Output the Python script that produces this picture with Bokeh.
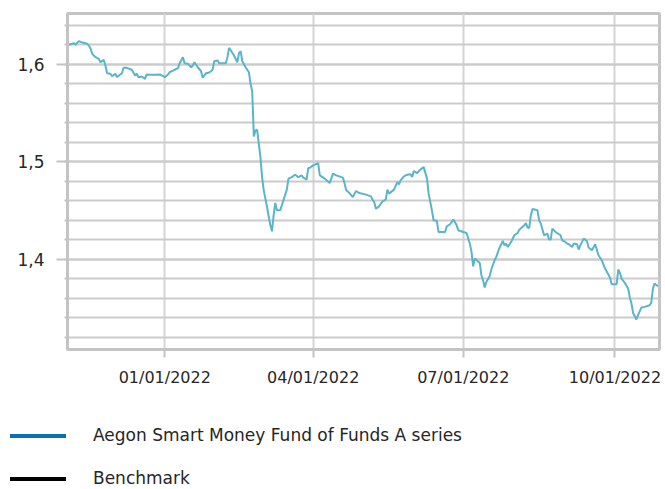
import pandas as pd
from bokeh.plotting import figure
from bokeh.layouts import column
from bokeh.models import (FixedTicker, DatetimeTickFormatter, CustomJSTickFormatter,
                          Range1d, Div)
from bokeh.embed import file_html
from bokeh.resources import INLINE

# ---- data ----
dates = [
    "2021-11-04", "2021-11-07", "2021-11-08", "2021-11-09", "2021-11-10", "2021-11-12", "2021-11-15",
    "2021-11-16", "2021-11-17", "2021-11-18", "2021-11-20", "2021-11-22", "2021-11-23", "2021-11-25",
    "2021-11-26", "2021-11-27", "2021-11-29", "2021-11-30", "2021-12-02", "2021-12-03", "2021-12-04",
    "2021-12-06", "2021-12-07", "2021-12-09", "2021-12-12", "2021-12-14", "2021-12-15", "2021-12-16",
    "2021-12-18", "2021-12-20", "2021-12-21", "2021-12-23", "2021-12-27", "2021-12-29", "2022-01-01",
    "2022-01-03", "2022-01-04", "2022-01-07", "2022-01-09", "2022-01-10", "2022-01-12", "2022-01-13",
    "2022-01-15", "2022-01-17", "2022-01-18", "2022-01-19", "2022-01-21", "2022-01-23", "2022-01-24",
    "2022-01-26", "2022-01-28", "2022-01-30", "2022-01-31", "2022-02-02", "2022-02-03", "2022-02-07",
    "2022-02-08", "2022-02-09", "2022-02-12", "2022-02-14", "2022-02-15", "2022-02-16", "2022-02-17",
    "2022-02-19", "2022-02-21", "2022-02-22", "2022-02-23", "2022-02-24", "2022-02-25", "2022-02-26",
    "2022-02-27", "2022-02-28", "2022-03-01", "2022-03-02", "2022-03-04", "2022-03-06", "2022-03-07",
    "2022-03-08", "2022-03-09", "2022-03-10", "2022-03-12", "2022-03-16", "2022-03-17", "2022-03-19",
    "2022-03-21", "2022-03-23", "2022-03-25", "2022-03-26", "2022-03-28", "2022-03-29", "2022-03-30",
    "2022-04-01", "2022-04-04", "2022-04-05", "2022-04-06", "2022-04-08", "2022-04-11", "2022-04-13",
    "2022-04-15", "2022-04-19", "2022-04-20", "2022-04-21", "2022-04-23", "2022-04-25", "2022-04-27",
    "2022-04-29", "2022-05-03", "2022-05-06", "2022-05-07", "2022-05-08", "2022-05-09", "2022-05-11",
    "2022-05-13", "2022-05-15", "2022-05-16", "2022-05-17", "2022-05-20", "2022-05-22", "2022-05-23",
    "2022-05-24", "2022-05-26", "2022-05-28", "2022-05-30", "2022-05-31", "2022-06-01", "2022-06-03",
    "2022-06-05", "2022-06-07", "2022-06-09", "2022-06-10", "2022-06-12", "2022-06-13", "2022-06-15",
    "2022-06-16", "2022-06-20", "2022-06-21", "2022-06-23", "2022-06-25", "2022-06-27", "2022-06-28",
    "2022-07-01", "2022-07-03", "2022-07-05", "2022-07-06", "2022-07-07", "2022-07-08", "2022-07-11",
    "2022-07-12", "2022-07-13", "2022-07-14", "2022-07-15", "2022-07-17", "2022-07-18", "2022-07-20",
    "2022-07-21", "2022-07-23", "2022-07-25", "2022-07-26", "2022-07-27", "2022-07-28", "2022-07-30",
    "2022-08-01", "2022-08-03", "2022-08-04", "2022-08-07", "2022-08-08", "2022-08-09", "2022-08-10",
    "2022-08-11", "2022-08-12", "2022-08-15", "2022-08-16", "2022-08-17", "2022-08-19", "2022-08-21",
    "2022-08-22", "2022-08-23", "2022-08-24", "2022-08-26", "2022-08-29", "2022-08-30", "2022-08-31",
    "2022-09-02", "2022-09-03", "2022-09-05", "2022-09-06", "2022-09-08", "2022-09-09", "2022-09-10",
    "2022-09-12", "2022-09-14", "2022-09-15", "2022-09-17", "2022-09-19", "2022-09-21", "2022-09-23",
    "2022-09-25", "2022-09-28", "2022-09-29", "2022-10-02", "2022-10-03", "2022-10-04", "2022-10-05",
    "2022-10-07", "2022-10-09", "2022-10-10", "2022-10-11", "2022-10-12", "2022-10-14", "2022-10-15",
    "2022-10-17", "2022-10-19", "2022-10-22", "2022-10-23", "2022-10-24", "2022-10-25", "2022-10-27",
]

fund_values = [
    1.6200, 1.6215, 1.6200, 1.6222, 1.6236, 1.6222, 1.6209,
    1.6191, 1.6158, 1.6106, 1.6072, 1.6055, 1.6020, 1.6045,
    1.5987, 1.5908, 1.5902, 1.5877, 1.5902, 1.5867, 1.5881,
    1.5908, 1.5963, 1.5963, 1.5943, 1.5884, 1.5902, 1.5867,
    1.5874, 1.5850, 1.5895, 1.5891, 1.5891, 1.5895, 1.5867,
    1.5895, 1.5918, 1.5943, 1.5959, 1.6010, 1.6072, 1.6010,
    1.6004, 1.5969, 1.5987, 1.6020, 1.5969, 1.5928, 1.5861,
    1.5908, 1.5915, 1.5943, 1.6031, 1.6038, 1.6010, 1.6010,
    1.6072, 1.6168, 1.6089, 1.6020, 1.6113, 1.6133, 1.6031,
    1.5969, 1.5918, 1.5799, 1.5724, 1.5260, 1.5321, 1.5328,
    1.5185, 1.5048, 1.4843, 1.4707, 1.4536, 1.4348, 1.4287,
    1.4451, 1.4577, 1.4502, 1.4502, 1.4714, 1.4827, 1.4843,
    1.4867, 1.4843, 1.4860, 1.4837, 1.4816, 1.4935, 1.4939,
    1.4963, 1.4986, 1.4860, 1.4850, 1.4827, 1.4781, 1.4878,
    1.4860, 1.4837, 1.4781, 1.4707, 1.4679, 1.4638, 1.4700,
    1.4679, 1.4663, 1.4645, 1.4611, 1.4587, 1.4519, 1.4543,
    1.4594, 1.4611, 1.4714, 1.4673, 1.4714, 1.4792, 1.4768,
    1.4809, 1.4850, 1.4867, 1.4871, 1.4843, 1.4904, 1.4884,
    1.4919, 1.4945, 1.4827, 1.4673, 1.4502, 1.4400, 1.4392,
    1.4280, 1.4280, 1.4338, 1.4359, 1.4407, 1.4348, 1.4297,
    1.4280, 1.4270, 1.4160, 1.4075, 1.3928, 1.4007, 1.3962,
    1.3836, 1.3785, 1.3710, 1.3768, 1.3826, 1.3895, 1.3990,
    1.4024, 1.4120, 1.4188, 1.4143, 1.4161, 1.4126, 1.4177,
    1.4246, 1.4270, 1.4304, 1.4348, 1.4372, 1.4325, 1.4321,
    1.4451, 1.4515, 1.4502, 1.4400, 1.4366, 1.4246, 1.4263,
    1.4202, 1.4202, 1.4314, 1.4280, 1.4246, 1.4195, 1.4187,
    1.4161, 1.4154, 1.4126, 1.4161, 1.4154, 1.4100, 1.4143,
    1.4212, 1.4187, 1.4120, 1.4092, 1.4154, 1.4041, 1.3990,
    1.3905, 1.3813, 1.3744, 1.3744, 1.3895, 1.3860, 1.3802,
    1.3757, 1.3700, 1.3608, 1.3547, 1.3450, 1.3383, 1.3427,
    1.3505, 1.3512, 1.3529, 1.3553, 1.3700, 1.3751, 1.3724,
]

series_names = ["Aegon Smart Money Fund of Funds A series", "Benchmark"]
series_legend_colors = ["#0b6fb7", "#000000"]
x_tick_dates = ["2022-01-01", "2022-04-01", "2022-07-01", "2022-10-01"]
y_major_ticks = [1.4, 1.5, 1.6]
y_minor_ticks = [1.32, 1.34, 1.36, 1.38, 1.40, 1.42, 1.44, 1.46, 1.48, 1.50,
                 1.52, 1.54, 1.56, 1.58, 1.60, 1.62, 1.64]
x_start, x_end = "2021-11-03", "2022-10-28"
y_start, y_end = 1.3075, 1.652

# ---- styling ----
FONT = "DejaVu Sans"
TEXT = "#262626"
GRID = "#cbcbcb"
VGRID = "#d4d4d4"
FRAME = "#c4c4c4"
LINE = "#5ab4ca"

x = pd.to_datetime(dates)

p = figure(x_axis_type="datetime", frame_width=592, frame_height=336,
           min_border_left=67, min_border_right=6, min_border_top=13, min_border_bottom=41,
           x_range=Range1d(pd.Timestamp(x_start), pd.Timestamp(x_end)),
           y_range=Range1d(y_start, y_end),
           output_backend="svg", toolbar_location=None,
           background_fill_color="white", border_fill_color="white")

p.line(x=x, y=fund_values, line_color=LINE, line_width=2)

# x axis
xticks = [pd.Timestamp(d).value / 1e6 for d in x_tick_dates]
p.xaxis.ticker = FixedTicker(ticks=xticks)
fmt = "%m/%d/%Y"
p.xaxis.formatter = DatetimeTickFormatter(days=fmt, months=fmt, years=fmt, hours=fmt,
                                          minutes=fmt, seconds=fmt)
p.xaxis.major_tick_out = 8
p.xaxis.major_tick_in = 0
p.xaxis.major_tick_line_color = FRAME
p.xaxis.major_tick_line_width = 2
p.xaxis.minor_tick_line_color = None
p.xaxis.axis_line_color = FRAME
p.xaxis.axis_line_width = 3
p.xaxis.major_label_standoff = 10
p.xaxis.major_label_text_font = FONT
p.xaxis.major_label_text_font_size = "16px"
p.xaxis.major_label_text_color = TEXT

# y axis
p.yaxis.ticker = FixedTicker(ticks=y_major_ticks, minor_ticks=y_minor_ticks)
p.yaxis.formatter = CustomJSTickFormatter(code="return tick.toFixed(1).replace('.', ',');")
p.yaxis.major_tick_out = 11
p.yaxis.major_tick_in = 0
p.yaxis.major_tick_line_color = FRAME
p.yaxis.major_tick_line_width = 2
p.yaxis.minor_tick_out = 3
p.yaxis.minor_tick_in = 0
p.yaxis.minor_tick_line_color = FRAME
p.yaxis.minor_tick_line_width = 2
p.yaxis.axis_line_color = FRAME
p.yaxis.axis_line_width = 3
p.yaxis.major_label_standoff = 12
p.yaxis.major_label_text_font = FONT
p.yaxis.major_label_text_font_size = "17px"
p.yaxis.major_label_text_color = TEXT

# grids
p.xgrid.grid_line_color = VGRID
p.xgrid.grid_line_width = 2
p.ygrid.grid_line_color = GRID
p.ygrid.grid_line_width = 2
p.ygrid.minor_grid_line_color = GRID
p.ygrid.minor_grid_line_width = 2

p.outline_line_color = FRAME
p.outline_line_width = 3

# ---- legend (HTML block under the chart) ----
row_tops = [38, 81]
parts = []
for name, col, top in zip(series_names, series_legend_colors, row_tops):
    parts.append(
        f'<div style="position:absolute;left:10px;top:{top + 6}px;width:56px;height:4px;'
        f'background:{col};"></div>'
        f'<div style="position:absolute;left:93px;top:{top}px;line-height:14px;'
        f'white-space:nowrap;">{name}</div>'
    )
legend_html = (
    f'<div style="position:relative;width:665px;height:99px;font-family:\'{FONT}\';'
    f'font-size:17px;color:{TEXT};">' + "".join(parts) + '</div>'
)
legend_div = Div(text=legend_html, width=665, height=99, margin=(0, 0, 0, 0))

layout = column(p, legend_div, spacing=0)
open("out.html", "w").write(file_html(layout, INLINE))
